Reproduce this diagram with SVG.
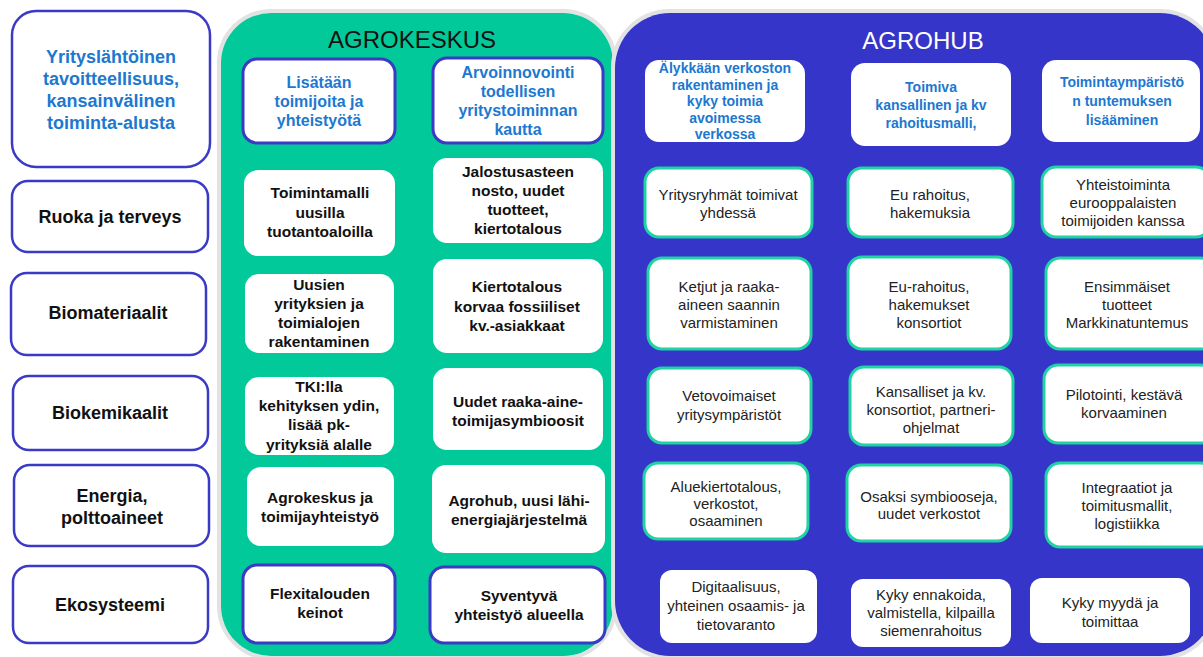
<svg xmlns="http://www.w3.org/2000/svg" width="1203" height="657" viewBox="0 0 1203 657">
<style>
text{font-family:"Liberation Sans",Arial,sans-serif;text-anchor:middle}
.lbox{fill:#fff;stroke:#3a3ac6;stroke-width:2.5}
.lt{font-size:18px;font-weight:bold;fill:#111}
.lh{font-size:18px;font-weight:bold;fill:#1c78d0}
.gbox{fill:#fff}
.ghead{fill:#fff;stroke:#3a3ac6;stroke-width:3}
.gt{font-size:15.5px;font-weight:bold;fill:#111}
.gh{font-size:16px;font-weight:bold;fill:#1c78d0}
.bbox{fill:#fff;stroke:#1fd3a2;stroke-width:3}
.bplain{fill:#fff}
.bt{font-size:15px;fill:#222}
.bh{font-size:14px;font-weight:bold;fill:#1c78d0}
.title{font-size:24px}
</style>
<rect width="1203" height="657" fill="#fff"/>
<!-- panels -->
<g id="panel-agrokeskus">
<rect x="219" y="11" width="396" height="647" rx="52" fill="none" stroke="#e2e2e2" stroke-width="4"/>
<rect x="221" y="13" width="392" height="643" rx="50" fill="#02c999"/>
<text class="title" x="412" y="48" fill="#111">AGROKESKUS</text>
</g>
<g id="panel-agrohub">
<rect x="613" y="11" width="604" height="647" rx="57" fill="none" stroke="#e2e2e2" stroke-width="4"/>
<rect x="615" y="13" width="600" height="643" rx="55" fill="#3535c9"/>
<text class="title" x="923" y="49" fill="#fff">AGROHUB</text>
</g>
<!-- left column -->
<g id="l1"><rect class="lbox" x="12" y="11" width="198" height="156" rx="24"/>
<text class="lh"><tspan x="111" y="63">Yrityslähtöinen</tspan><tspan x="111" y="85">tavoitteellisuus,</tspan><tspan x="111" y="107">kansainvälinen</tspan><tspan x="111" y="129">toiminta-alusta</tspan></text></g>
<g id="l2"><rect class="lbox" x="12" y="181" width="196" height="71" rx="16"/>
<text class="lt" x="110" y="223">Ruoka ja terveys</text></g>
<g id="l3"><rect class="lbox" x="11" y="273" width="195" height="82" rx="16"/>
<text class="lt" x="108" y="319">Biomateriaalit</text></g>
<g id="l4"><rect class="lbox" x="13" y="376" width="195" height="74" rx="16"/>
<text class="lt" x="110" y="419">Biokemikaalit</text></g>
<g id="l5"><rect class="lbox" x="14" y="465" width="195" height="81" rx="16"/>
<text class="lt"><tspan x="112" y="502">Energia,</tspan><tspan x="112" y="524">polttoaineet</tspan></text></g>
<g id="l6"><rect class="lbox" x="13" y="566" width="195" height="77" rx="16"/>
<text class="lt" x="110" y="611">Ekosysteemi</text></g>
<!-- agrokeskus boxes -->
<g id="g-h1"><rect class="ghead" x="243" y="59" width="152" height="84" rx="14"/>
<text class="gh"><tspan x="319" y="88">Lisätään</tspan><tspan x="319" y="107">toimijoita ja</tspan><tspan x="319" y="126">yhteistyötä</tspan></text></g>
<g id="g-h2"><rect class="ghead" x="433" y="58" width="170" height="85" rx="14"/>
<text class="gh"><tspan x="518" y="78">Arvoinnovointi</tspan><tspan x="518" y="97">todellisen</tspan><tspan x="518" y="116">yritystoiminnan</tspan><tspan x="518" y="135">kautta</tspan></text></g>
<g id="g-r2c1"><rect class="gbox" x="244" y="170" width="151" height="86" rx="14"/>
<text class="gt"><tspan x="320" y="198">Toimintamalli</tspan><tspan x="320" y="217.5">uusilla</tspan><tspan x="320" y="237">tuotantoaloilla</tspan></text></g>
<g id="g-r2c2"><rect class="gbox" x="433" y="158" width="170" height="85" rx="14"/>
<text class="gt"><tspan x="518" y="177">Jalostusasteen</tspan><tspan x="518" y="196">nosto, uudet</tspan><tspan x="518" y="215">tuotteet,</tspan><tspan x="518" y="234">kiertotalous</tspan></text></g>
<g id="g-r3c1"><rect class="gbox" x="245" y="274" width="149" height="79" rx="14"/>
<text class="gt"><tspan x="319" y="290">Uusien</tspan><tspan x="319" y="309">yrityksien ja</tspan><tspan x="319" y="328">toimialojen</tspan><tspan x="319" y="347">rakentaminen</tspan></text></g>
<g id="g-r3c2"><rect class="gbox" x="433" y="259" width="170" height="94" rx="14"/>
<text class="gt"><tspan x="517" y="292">Kiertotalous</tspan><tspan x="517" y="312">korvaa fossiiliset</tspan><tspan x="517" y="331">kv.-asiakkaat</tspan></text></g>
<g id="g-r4c1"><rect class="gbox" x="245" y="377" width="149" height="78" rx="14"/>
<text class="gt"><tspan x="319" y="392">TKI:lla</tspan><tspan x="319" y="411">kehityksen ydin,</tspan><tspan x="319" y="430">lisää pk-</tspan><tspan x="319" y="450">yrityksiä alalle</tspan></text></g>
<g id="g-r4c2"><rect class="gbox" x="433" y="368" width="170" height="82" rx="14"/>
<text class="gt"><tspan x="518" y="407">Uudet raaka-aine-</tspan><tspan x="518" y="426">toimijasymbioosit</tspan></text></g>
<g id="g-r5c1"><rect class="gbox" x="247" y="467" width="147" height="79" rx="14"/>
<text class="gt"><tspan x="320" y="503">Agrokeskus ja</tspan><tspan x="320" y="522">toimijayhteistyö</tspan></text></g>
<g id="g-r5c2"><rect class="gbox" x="432" y="465" width="173" height="88" rx="14"/>
<text class="gt"><tspan x="519" y="506">Agrohub, uusi lähi-</tspan><tspan x="519" y="525">energiajärjestelmä</tspan></text></g>
<g id="g-r6c1"><rect class="ghead" x="243" y="565" width="152" height="78" rx="14"/>
<text class="gt"><tspan x="320" y="599">Flexitalouden</tspan><tspan x="320" y="618">keinot</tspan></text></g>
<g id="g-r6c2"><rect class="ghead" x="430" y="567" width="175" height="76" rx="14"/>
<text class="gt"><tspan x="519" y="601">Syventyvä</tspan><tspan x="519" y="620">yhteistyö alueella</tspan></text></g>
<!-- agrohub boxes -->
<g id="b-h1"><rect class="bplain" x="645" y="60" width="160" height="82" rx="14"/>
<text class="bh"><tspan x="725" y="73">Älykkään verkoston</tspan><tspan x="725" y="89.5">rakentaminen ja</tspan><tspan x="725" y="106">kyky toimia</tspan><tspan x="725" y="122.5">avoimessa</tspan><tspan x="725" y="139">verkossa</tspan></text></g>
<g id="b-h2"><rect class="bplain" x="851" y="63" width="160" height="83" rx="14"/>
<text class="bh"><tspan x="931" y="92">Toimiva</tspan><tspan x="931" y="110">kansallinen ja kv</tspan><tspan x="931" y="128">rahoitusmalli,</tspan></text></g>
<g id="b-h3"><rect class="bplain" x="1042" y="60" width="158" height="82" rx="14"/>
<text class="bh"><tspan x="1122" y="87">Toimintaympäristö</tspan><tspan x="1122" y="106">n tuntemuksen</tspan><tspan x="1122" y="125">lisääminen</tspan></text></g>
<g id="b-r1c1"><rect class="bbox" x="645" y="168" width="167" height="69" rx="14"/>
<text class="bt"><tspan x="728" y="200">Yritysryhmät toimivat</tspan><tspan x="728" y="218">yhdessä</tspan></text></g>
<g id="b-r1c2"><rect class="bbox" x="848" y="168" width="165" height="69" rx="14"/>
<text class="bt"><tspan x="930" y="200">Eu rahoitus,</tspan><tspan x="930" y="218">hakemuksia</tspan></text></g>
<g id="b-r1c3"><rect class="bbox" x="1042" y="167" width="168" height="70" rx="14"/>
<text class="bt"><tspan x="1123" y="190">Yhteistoiminta</tspan><tspan x="1123" y="208">eurooppalaisten</tspan><tspan x="1123" y="226">toimijoiden kanssa</tspan></text></g>
<g id="b-r2c1"><rect class="bbox" x="648" y="258" width="163" height="91" rx="14"/>
<text class="bt"><tspan x="729" y="292">Ketjut ja raaka-</tspan><tspan x="729" y="310">aineen saannin</tspan><tspan x="729" y="328">varmistaminen</tspan></text></g>
<g id="b-r2c2"><rect class="bbox" x="848" y="257" width="163" height="92" rx="14"/>
<text class="bt"><tspan x="929" y="292">Eu-rahoitus,</tspan><tspan x="929" y="310">hakemukset</tspan><tspan x="929" y="328">konsortiot</tspan></text></g>
<g id="b-r2c3"><rect class="bbox" x="1046" y="258" width="168" height="91" rx="14"/>
<text class="bt"><tspan x="1127" y="292">Ensimmäiset</tspan><tspan x="1127" y="310">tuotteet</tspan><tspan x="1127" y="328">Markkinatuntemus</tspan></text></g>
<g id="b-r3c1"><rect class="bbox" x="648" y="368" width="163" height="75" rx="14"/>
<text class="bt"><tspan x="729" y="401">Vetovoimaiset</tspan><tspan x="729" y="420">yritysympäristöt</tspan></text></g>
<g id="b-r3c2"><rect class="bbox" x="850" y="367" width="163" height="78" rx="14"/>
<text class="bt"><tspan x="931" y="397">Kansalliset ja kv.</tspan><tspan x="931" y="415">konsortiot, partneri-</tspan><tspan x="931" y="433">ohjelmat</tspan></text></g>
<g id="b-r3c3"><rect class="bbox" x="1044" y="365" width="170" height="78" rx="14"/>
<text class="bt"><tspan x="1124" y="400">Pilotointi, kestävä</tspan><tspan x="1124" y="418">korvaaminen</tspan></text></g>
<g id="b-r4c1"><rect class="bbox" x="644" y="463" width="164" height="76" rx="14"/>
<text class="bt"><tspan x="726" y="492">Aluekiertotalous,</tspan><tspan x="726" y="509">verkostot,</tspan><tspan x="726" y="526">osaaminen</tspan></text></g>
<g id="b-r4c2"><rect class="bbox" x="847" y="465" width="164" height="76" rx="14"/>
<text class="bt"><tspan x="929" y="502">Osaksi symbiooseja,</tspan><tspan x="929" y="519">uudet verkostot</tspan></text></g>
<g id="b-r4c3"><rect class="bbox" x="1046" y="463" width="168" height="84" rx="14"/>
<text class="bt"><tspan x="1127" y="493">Integraatiot ja</tspan><tspan x="1127" y="511">toimitusmallit,</tspan><tspan x="1127" y="529">logistiikka</tspan></text></g>
<g id="b-r5c1"><rect class="bplain" x="660" y="570" width="157" height="73" rx="12"/>
<text class="bt"><tspan x="736" y="592">Digitaalisuus,</tspan><tspan x="736" y="611">yhteinen osaamis- ja</tspan><tspan x="736" y="630">tietovaranto</tspan></text></g>
<g id="b-r5c2"><rect class="bplain" x="851" y="579" width="160" height="68" rx="12"/>
<text class="bt"><tspan x="931" y="600">Kyky ennakoida,</tspan><tspan x="931" y="618">valmistella, kilpailla</tspan><tspan x="931" y="636">siemenrahoitus</tspan></text></g>
<g id="b-r5c3"><rect class="bplain" x="1030" y="578" width="160" height="65" rx="12"/>
<text class="bt"><tspan x="1110" y="608">Kyky myydä ja</tspan><tspan x="1110" y="627">toimittaa</tspan></text></g>
<g id="connectors"/>
</svg>
